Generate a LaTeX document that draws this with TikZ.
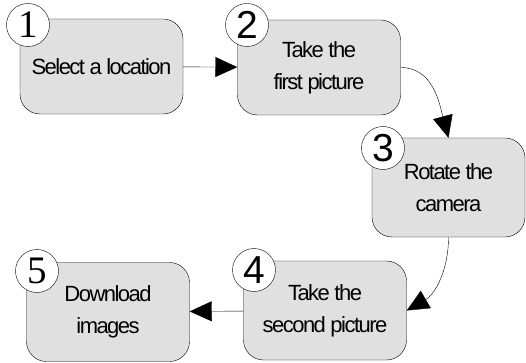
\documentclass[tikz,border=0pt]{standalone}
\usepackage{fontspec}
\setmainfont{Liberation Sans}
\newfontfamily\boxfont[LetterSpace=-7]{Liberation Sans}
\newfontfamily\numserif{Liberation Serif}
\usetikzlibrary{arrows.meta}
\definecolor{boxgray}{RGB}{224,224,224}

\begin{document}
\begin{tikzpicture}[x=1pt,y=1pt]
\useasboundingbox (0,0) rectangle (526,-363);
\begin{scope}[every node/.style={draw,thin,rounded corners=20pt,fill=boxgray,minimum width=163pt,minimum height=95pt,align=center,font=\boxfont\fontsize{22}{32}\selectfont}]
    \node (select) at (101.5,-66.5) {Select a location};
    \node (first) at (319,-67.5) {Take the\\first picture};
    \node[minimum width=153pt,minimum height=99pt] (rotate) at (448.5,-187.5) {Rotate the\\camera};
    \node[minimum height=99pt] (second) at (325,-310.5) {Take the\\second picture};
    \node[minimum height=99pt] (download) at (108,-312) {Download\\images};
\end{scope}

\begin{scope}[every node/.style={circle,draw,fill=white,minimum size=43pt,inner sep=0pt,font=\fontsize{39}{39}\selectfont}]
    \node (n1) at (28,-25) {\numserif 1};
    \node (n2) at (247,-25) {2};
    \node (n3) at (383,-148) {3};
    \node (n4) at (254,-270) {4};
    \node (n5) at (37,-271) {\numserif 5};
\end{scope}

\begin{scope}[every edge/.style={draw=black,thin,-{Triangle[length=22pt,width=20pt]}}]
    \path (select) edge (first);
    \path (first.east) edge[out=0,in=105] (rotate.north);
    \path (rotate.south) edge[out=-90,in=30] (second.east);
    \path (second) edge (download);
\end{scope}
\end{tikzpicture}
\end{document}
